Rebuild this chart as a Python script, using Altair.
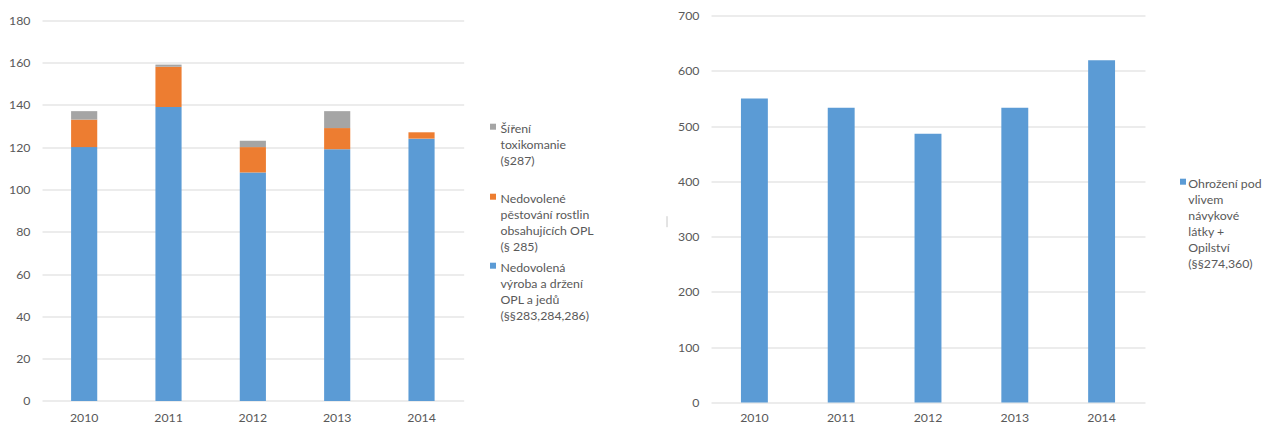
import altair as alt
import pandas as pd

# ---- data ----
years = ["2010", "2011", "2012", "2013", "2014"]
vyroba = [120, 139, 108, 119, 124]      # Nedovolená výroba a držení OPL a jedů
pestovani = [13, 19, 12, 10, 3]         # Nedovolené pěstování rostlin
sireni = [4, 1, 3, 8, 0]                # Šíření toxikomanie
ohrozeni = [550, 533, 486, 533, 619]    # Ohrožení pod vlivem návykové látky + Opilství

s_vyroba = "Nedovolená výroba a držení OPL a jedů (§§283,284,286)"
s_pest = "Nedovolené pěstování rostlin obsahujících OPL (§ 285)"
s_sir = "Šíření toxikomanie (§287)"
s_ohr = "Ohrožení pod vlivem návykové látky + Opilství (§§274,360)"

leg_sir = "Šíření\ntoxikomanie\n(§287)"
leg_pest = "Nedovolené\npěstování rostlin\nobsahujících OPL\n(§ 285)"
leg_vyroba = "Nedovolená\nvýroba a držení\nOPL a jedů\n(§§283,284,286)"
leg_ohr = "Ohrožení pod\nvlivem\nnávykové\nlátky +\nOpilství\n(§§274,360)"

BLUE, ORANGE, GRAY = "#5B9BD5", "#ED7D31", "#A5A5A5"
TXT, GRID = "#595959", "#D9D9D9"
FONT, FS = "Lato", 12.3

rows = []
for i, y in enumerate(years):
    rows.append({"year": y, "series": s_vyroba, "value": vyroba[i], "ord": 0})
    rows.append({"year": y, "series": s_pest, "value": pestovani[i], "ord": 1})
    rows.append({"year": y, "series": s_sir, "value": sireni[i], "ord": 2})
df_left = pd.DataFrame(rows)
df_right = pd.DataFrame({"year": years, "value": ohrozeni, "series": s_ohr})

H = 387
xscale = alt.Scale(paddingInner=0.69, paddingOuter=0.345)
xaxis = alt.Axis(title=None, labelAngle=0, domain=False, ticks=False, grid=False,
                 labelPadding=9)

left_bars = alt.Chart(df_left).mark_bar().encode(
    x=alt.X("year:N", scale=xscale, axis=xaxis),
    y=alt.Y("value:Q", stack="zero",
            scale=alt.Scale(domain=[0, 180], nice=False, range=[385.4, 4.7]),
            axis=alt.Axis(title=None, values=list(range(0, 181, 20)), domain=False,
                          ticks=False, labelPadding=12, gridColor=GRID)),
    color=alt.Color("series:N", legend=None,
                    scale=alt.Scale(domain=[s_vyroba, s_pest, s_sir],
                                    range=[BLUE, ORANGE, GRAY])),
    order=alt.Order("ord:Q"),
)


def legend_item(text, color, sx, sy, tx, ty):
    sq = alt.Chart(pd.DataFrame({"t": [text]})).mark_square(
        size=36, color=color, opacity=1).encode(x=alt.value(sx), y=alt.value(sy))
    tt = alt.Chart(pd.DataFrame({"t": [text]})).mark_text(
        align="left", baseline="alphabetic", lineBreak="\n", lineHeight=16,
        font=FONT, fontSize=FS, color=TXT).encode(
        x=alt.value(tx), y=alt.value(ty), text="t:N")
    return [sq, tt]


left_layers = [left_bars]
left_layers += legend_item(leg_sir, GRAY, 451, 111.2, 458.5, 117.1)
left_layers += legend_item(leg_pest, ORANGE, 451, 181.2, 458.5, 187.1)
left_layers += legend_item(leg_vyroba, BLUE, 451, 250.2, 458.5, 256.1)
left = alt.layer(*left_layers).properties(width=421.7, height=H)

right_bars = alt.Chart(df_right).mark_bar(color=BLUE).encode(
    x=alt.X("year:N", scale=xscale, axis=xaxis),
    y=alt.Y("value:Q", scale=alt.Scale(domain=[0, 700], nice=False),
            axis=alt.Axis(title=None, values=list(range(0, 701, 100)), domain=False,
                          ticks=False, labelPadding=12, gridColor=GRID)),
)
artifact = alt.Chart(pd.DataFrame({"a": [0]})).mark_rule(
    color="#C8C8C8", strokeWidth=1).encode(
    x=alt.value(-44), y=alt.value(200.7), y2=alt.value(211.7))

right_layers = [right_bars, artifact]
right_layers += legend_item(leg_ohr, BLUE, 472, 166.2, 477.3, 172.1)
right = alt.layer(*right_layers).properties(width=434, height=H)

chart = alt.hconcat(left, right, spacing=247, bounds="flush").properties(
    padding={"left": 8, "top": 9.5, "right": 0, "bottom": 0},
    background="white",
).configure_view(stroke=None).configure_axis(
    labelFont=FONT, labelFontSize=FS, labelColor=TXT
)

chart.save("out.html", embed_options={"renderer": "svg", "actions": False})
